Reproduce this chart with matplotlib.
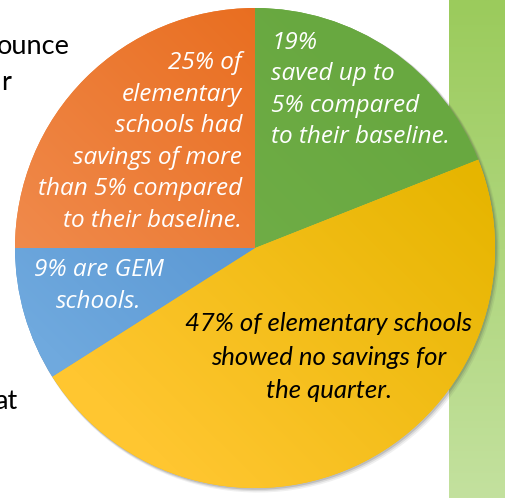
import numpy as np
import matplotlib.pyplot as plt
from matplotlib.patches import Wedge
from matplotlib.colors import LinearSegmentedColormap

# slice data, clockwise from 12 o'clock
shares = [19, 47, 9, 25]
slice_colors = ['#70AD47', '#FFC000', '#5B9BD5', '#ED7D31']
light_dark = [('#76B24C', '#68A840'), ('#FFC630', '#E6B500'),
              ('#6FA9DE', '#4888CA'), ('#F18E52', '#E86B1B')]
explode = [0, 0.035, 0, 0]

green_text = "19%\nsaved up to\n5% compared\nto their baseline."
yellow_text = "47% of elementary schools\nshowed no savings for\nthe quarter."
blue_text = "9% are GEM\nschools."
orange_text = "25% of\nelementary\nschools had\nsavings of more\nthan 5% compared\nto their baseline."

W, H = 506, 498
fig = plt.figure(figsize=(W / 100, H / 100), dpi=100)
ax = fig.add_axes([0, 0, 1, 1])

# green side panel, darker at the top
panel = np.linspace(0, 1, 200).reshape(-1, 1)
panel_cmap = LinearSegmentedColormap.from_list('panel', ['#9BCB5C', '#C3E19E'])
ax.imshow(panel, cmap=panel_cmap, extent=[449, W, 0, H], origin='upper',
          aspect='auto', zorder=0)

wedges, _ = ax.pie(shares, startangle=90, counterclock=False, radius=240,
                   center=(255, 250), explode=explode, colors=slice_colors,
                   wedgeprops=dict(linewidth=0))

# soft shadow behind slices
for w in wedges:
    w.set_zorder(3)
    for k, a in [(5, 0.08), (3.5, 0.12), (2, 0.18)]:
        sh = Wedge((w.center[0] + k * 0.6, w.center[1] - k * 0.6), w.r + k * 0.3,
                   w.theta1, w.theta2, facecolor='#404040', alpha=a,
                   linewidth=0, zorder=2)
        ax.add_patch(sh)

# gradient fill clipped to each slice
yy, xx = np.mgrid[0:H, 0:W]
grad = (xx / W + (H - yy) / H) / 2
for w, (c0, c1) in zip(wedges, light_dark):
    cm = LinearSegmentedColormap.from_list('g', [c0, c1])
    im = ax.imshow(grad, cmap=cm, extent=[0, W, 0, H], origin='upper',
                   aspect='auto', zorder=4, vmin=0.2, vmax=0.8)
    im.set_clip_path(w)

white_kw = dict(family='Open Sans', style='italic', fontsize=17.5,
                linespacing=1.42, color='white', zorder=6)
ax.text(271, 408, green_text, ha='left', va='center', **white_kw)
ax.text(242, 356, orange_text, ha='right', va='center',
        multialignment='right', **white_kw)
ax.text(99, 212, blue_text, ha='center', va='center', **white_kw)
ax.text(329, 141, yellow_text, color='black', ha='center', va='center',
        family='Lato', style='italic', fontsize=18.5, linespacing=1.55, zorder=6)

# fragments of the surrounding document text
doc_kw = dict(family='Lato', fontsize=19.5, color='black', va='center', zorder=1)
ax.text(70, 452, "ounce", ha='right', **doc_kw)
ax.text(11, 416, "r", ha='right', **doc_kw)
ax.text(17, 97, "at", ha='right', **doc_kw)

ax.set_xlim(0, W)
ax.set_ylim(0, H)
ax.set_aspect('auto')
ax.axis('off')
fig.savefig('out.png', dpi=100)
